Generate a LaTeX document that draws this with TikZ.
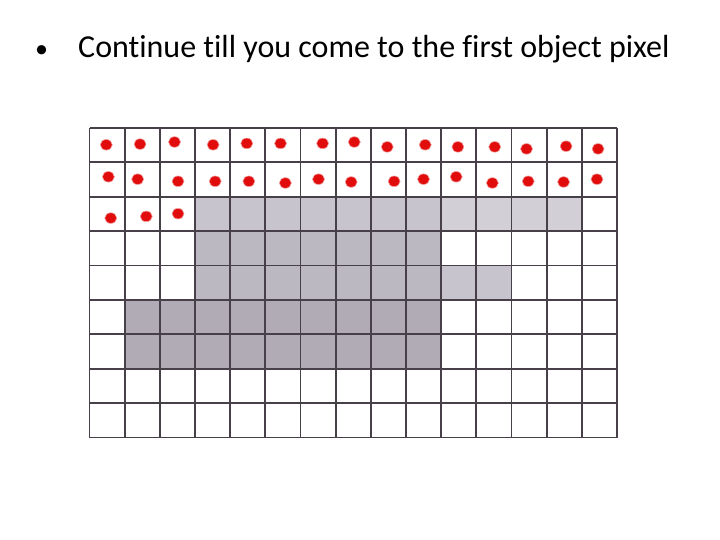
\documentclass[tikz,border=0pt]{standalone}
\usepackage{fontspec}
\setmainfont[Ligatures={NoCommon}]{Carlito}
\definecolor{dotred}{RGB}{225,12,12}
\definecolor{gridline}{RGB}{72,64,72}
\definecolor{grayA}{RGB}{210,207,215}
\definecolor{grayB}{RGB}{200,196,206}
\definecolor{grayC}{RGB}{188,184,194}
\definecolor{grayD}{RGB}{176,171,181}
\tikzset{
  gridln/.style={draw=gridline, line width=1.8pt},
  reddot/.style={fill=dotred, draw=dotred!40, line width=0.6pt},
  bullettext/.style={anchor=base west, inner sep=0pt, font=\fontsize{32}{38}\selectfont}
}
\newcommand{\CW}{35.17}
\newcommand{\RH}{34.39}
\newcommand{\cellfill}[3]{% row, col, color
  \fill[#3] ({89.5+#2*\CW},{128+#1*\RH}) rectangle ++(\CW,\RH);}
\newcommand{\pdot}[4]{% row, col, dx, dy
  \fill[reddot] ({89.5+(#2+0.5)*\CW+#3},{128+(#1+0.5)*\RH+#4}) ellipse (6pt and 5.3pt);}
\begin{document}
\begin{tikzpicture}[x=1pt,y=-1pt]
\fill[white] (0,0) rectangle (720,540);
\useasboundingbox (0,0) rectangle (720,540);
% title
\node[bullettext, font=\fontsize{26}{30}\selectfont] (bul) at (35,58) {•};
\node[bullettext] (title) at (78,58) {Continue till you come to the first object pixel};
% gray object cells
\foreach \c in {3,...,9} {\cellfill{2}{\c}{grayB}}
\foreach \c in {10,...,13} {\cellfill{2}{\c}{grayA}}
\foreach \c in {3,...,9} {\cellfill{3}{\c}{grayC}}
\foreach \c in {3,...,9} {\cellfill{4}{\c}{grayC}}
\foreach \c in {10,11} {\cellfill{4}{\c}{grayB}}
\foreach \c in {1,...,9} {\cellfill{5}{\c}{grayD}}
\foreach \c in {1,...,9} {\cellfill{6}{\c}{grayD}}
% grid
\foreach \i in {0,...,15} {\draw[gridln] ({89.5+\i*\CW},128) -- ({89.5+\i*\CW},437.5);}
\foreach \j in {0,...,9} {\draw[gridln] (89.5,{128+\j*\RH}) -- (617,{128+\j*\RH});}
% dots row 0
\foreach \c/\dx/\dy in {0/-0.8/-0.4,1/-2.2/-1.1,2/-2.9/-3.2,3/0.5/-0.4,4/-1/-1.8,5/-2.4/-1.8,6/4.5/-1.8,7/1/-3.2,8/-1.2/1.7,9/1.6/-0.4,10/-0.9/1.7,11/0.8/1.7,12/-2.6/3.7,13/1.8/1,14/-1.4/3.7}
  {\pdot{0}{\c}{\dx}{\dy}}
% dots row 1
\foreach \c/\dx/\dy in {0/1.3/-2.8,1/-4.6/-0.4,2/0.6/1.7,3/2.6/1.7,4/1.1/1.7,5/2.4/3.4,6/0.4/-0.4,7/-2.1/2.4,8/5.7/1.7,9/-0.1/-0.4,10/-2.6/-2.8,11/-1.6/3.4,12/-0.9/1.7,13/-0.7/2.4,14/-2.5/-0.4}
  {\pdot{1}{\c}{\dx}{\dy}}
% dots row 2
\foreach \c/\dx/\dy in {0/3.7/4.1,1/4/2.4,2/0.6/-0.3}
  {\pdot{2}{\c}{\dx}{\dy}}
\end{tikzpicture}
\end{document}
